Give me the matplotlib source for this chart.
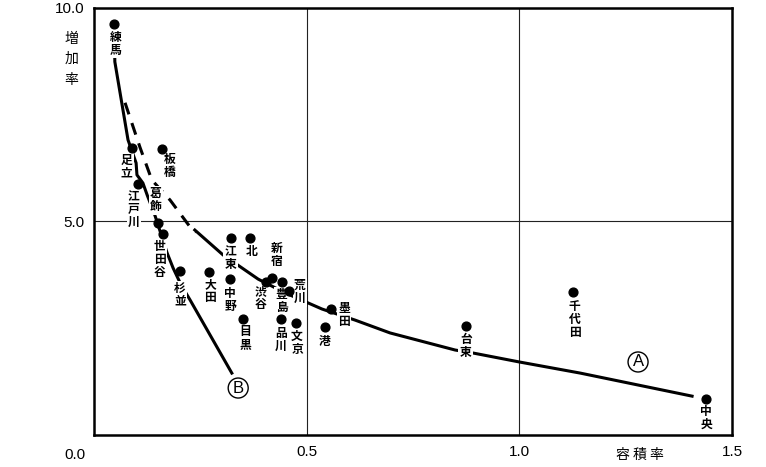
import numpy as np
import matplotlib.pyplot as plt

plt.rcParams['font.family'] = ['Liberation Sans', 'Noto Sans CJK JP', 'DejaVu Sans']

# --- data: 23 wards, 容積率 (x) vs 増加率 (y) ---
wards = ['練馬', '足立', '板橋', '江戸川', '葛飾', '世田谷', '杉並', '大田',
         '江東', '北', '中野', '目黒', '新宿', '渋谷', '豊島', '荒川',
         '品川', '文京', '港', '墨田', '台東', '千代田', '中央']
ratio = [0.047, 0.089, 0.161, 0.103, 0.150, 0.162, 0.202, 0.271,
         0.321, 0.367, 0.320, 0.351, 0.419, 0.404, 0.443, 0.458,
         0.439, 0.475, 0.543, 0.557, 0.874, 1.125, 1.439]
growth = [9.63, 6.71, 6.69, 5.88, 4.96, 4.71, 3.84, 3.81,
          4.61, 4.62, 3.65, 2.72, 3.68, 3.59, 3.58, 3.37,
          2.71, 2.62, 2.54, 2.94, 2.55, 3.36, 0.84]
# label placement: offset of label (px) from the dot, and vertical anchor
label_dx = [2, -5, 7, -4, -2, -3, 0, 1, 0, 1, 0, 2, 4, -5, -1, 11, 0, 1, 0, 13, 0, 2, 0]
label_dy = [-7, -5, -4, -6, 10, -6, -11, -6, -7, -7, -8, -6, 10, -3, -6, -1, -8, -7, -8, -6, -7, -8, -6]
label_va = ['top', 'top', 'top', 'top', 'bottom', 'top', 'top', 'top',
            'top', 'top', 'top', 'top', 'bottom', 'top', 'top', 'center',
            'top', 'top', 'top', 'center', 'top', 'top', 'top']

# trend curve A (dashed head, solid tail) and curve B
curve_a_dash_x = [0.073, 0.108, 0.136, 0.179, 0.226, 0.240]
curve_a_dash_y = [7.78, 6.74, 5.97, 5.50, 4.87, 4.75]
curve_a_x = [0.237, 0.303, 0.386, 0.449, 0.536, 0.614, 0.696, 0.849, 0.891, 1.0, 1.143, 1.406]
curve_a_y = [4.80, 4.22, 3.65, 3.33, 2.95, 2.69, 2.39, 1.99, 1.92, 1.71, 1.45, 0.91]
curve_b_x = [0.048, 0.049, 0.080, 0.099, 0.101, 0.115, 0.125, 0.143, 0.162, 0.172, 0.186, 0.205, 0.226, 0.324]
curve_b_y = [9.40, 8.74, 6.91, 6.37, 6.09, 5.90, 5.62, 5.15, 4.57, 4.26, 3.91, 3.51, 3.16, 1.45]

fig = plt.figure(figsize=(7.66, 4.67), dpi=100)
ax = fig.add_axes([0.1227, 0.0685, 0.833, 0.9145])

ax.set_xlim(0, 1.5)
ax.set_ylim(0, 10)

# grid lines
ax.axvline(0.5, color='#222222', lw=0.8, zorder=1)
ax.axvline(1.0, color='#222222', lw=0.8, zorder=1)
ax.axhline(5.0, color='#222222', lw=0.8, zorder=1)

# curves
ax.plot(curve_a_dash_x, curve_a_dash_y, color='black', lw=2.2, ls=(0, (4, 3)), zorder=2)
ax.plot(curve_a_x, curve_a_y, color='black', lw=2.2, zorder=2)
ax.plot(curve_b_x, curve_b_y, color='black', lw=2.2, zorder=2)

# points
ax.scatter(ratio, growth, s=40, color='black', zorder=4)

for name, x, y, dx, dy, va in zip(wards, ratio, growth, label_dx, label_dy, label_va):
    ax.annotate('\n'.join(name), (x, y), xytext=(dx, dy), textcoords='offset pixels',
                ha='center', va=va, fontsize=8.5, fontweight='bold', linespacing=1.0,
                family=['Noto Sans CJK JP'], zorder=3,
                bbox=dict(boxstyle='square,pad=0.12', fc='white', ec='none'))

# circled curve labels
ax.text(1.279, 1.71, 'A', fontsize=12, ha='center', va='center', zorder=5,
        bbox=dict(boxstyle='circle,pad=0.15', fc='white', ec='black', lw=1))
ax.text(0.339, 1.10, 'B', fontsize=12, ha='center', va='center', zorder=5,
        bbox=dict(boxstyle='circle,pad=0.15', fc='white', ec='black', lw=1))

# axes styling
for side in ax.spines.values():
    side.set_linewidth(1.8)
ax.set_xticks([0.5, 1.0, 1.5])
ax.set_xticklabels(['0.5', '1.0', '1.5'])
ax.set_yticks([5.0, 10.0])
ax.set_yticklabels(['5.0', '10.0'])
ax.tick_params(length=0, labelsize=11, pad=7)
ax.text(-0.03, -0.03, '0.0', transform=ax.transAxes, ha='center', va='top', fontsize=11)

# axis titles
ax.text(-0.035, 0.88, '\n'.join('増加率'), transform=ax.transAxes, ha='center', va='center',
        fontsize=10, linespacing=1.6, family=['Noto Sans CJK JP'])
ax.text(0.855, -0.03, '容 積 率', transform=ax.transAxes, ha='center', va='top',
        fontsize=10, family=['Noto Sans CJK JP'])

fig.savefig('out.png', dpi=100)
